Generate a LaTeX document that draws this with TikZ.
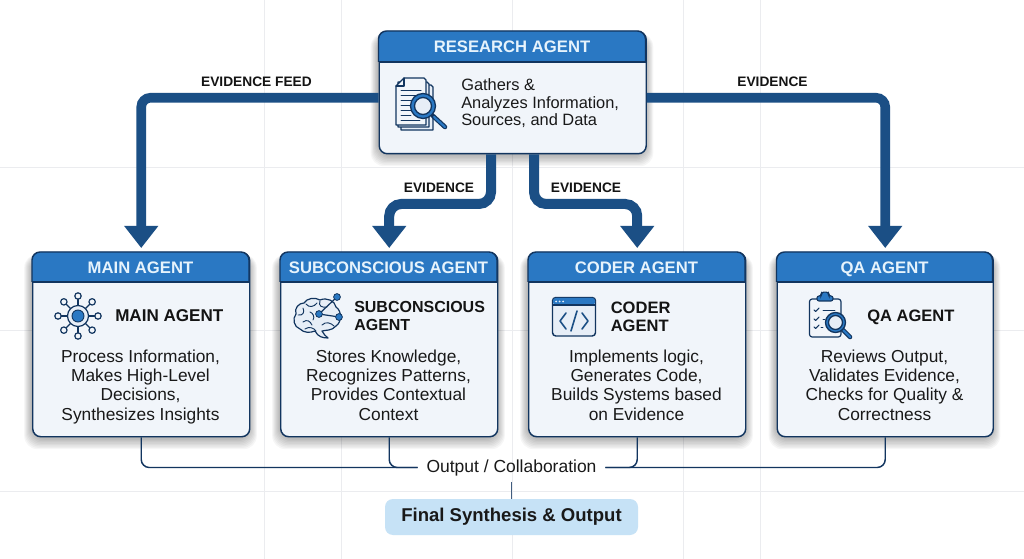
\documentclass[tikz,border=0pt]{standalone}
\usepackage{fontspec}
\setmainfont{Liberation Sans}
\usetikzlibrary{arrows.meta,calc}
\definecolor{ink}{HTML}{12355F}
\definecolor{flow}{HTML}{1B4F85}
\definecolor{head}{HTML}{2A78C3}
\definecolor{body}{HTML}{F1F5FA}
\definecolor{headtxt}{HTML}{E6F3FC}
\definecolor{grid}{HTML}{EBECEF}
\definecolor{finalbox}{HTML}{C6E2F6}
\definecolor{iconfill}{HTML}{E7EEF7}
\tikzset{
  gridline/.style={grid,line width=.75pt},
  panel/.style={rectangle,draw=ink,line width=1.1pt,fill=body,rounded corners=6pt,inner sep=0pt},
  headtext/.style={text=headtxt,anchor=base,font=\bfseries\fontsize{12.5pt}{14pt}\selectfont,inner sep=0pt},
  bodytext/.style={text=black!90,anchor=north,font=\fontsize{13pt}{14.3pt}\selectfont,align=center,inner sep=0pt},
  titletext/.style={text=black!92,font=\bfseries\fontsize{12.4pt}{13.6pt}\selectfont,align=left,inner sep=0pt},
  flowlabel/.style={text=black!92,font=\bfseries\fontsize{10.3pt}{12pt}\selectfont,inner sep=0pt},
  flowarrow/.style={draw=flow,line width=7.2pt,rounded corners=7pt,shorten >=3pt,
    -{Triangle[width=24.5pt,length=16.5pt]}},
  busline/.style={draw=ink,line width=1.1pt,rounded corners=6pt},
  iconline/.style={draw=ink,line width=.9pt,line cap=round,line join=round},
  iconpale/.style={draw=ink,line width=.9pt,fill=iconfill,line join=round},
  lenshandle/.style={draw=ink,line width=3.4pt,line cap=round},
  lenshandlein/.style={draw=head,line width=1.6pt,line cap=round},
}
% name, left, right, top, bottom, header bottom
\newcommand{\agentpanel}[6]{%
  \foreach \s in {1,...,12}{
    \fill[black,opacity=.034,rounded corners=10pt] (#2+3-\s*.9,#4+6-\s*.3) rectangle (#3-3+\s*.9,#5-3+\s*1.35);
  }
  \node[panel,anchor=north west,minimum width={(#3-#2)*.75pt},minimum height={(#5-#4)*.75pt}] (#1) at (#2,#4) {};
  \fill[head] (#2,#6) [rounded corners=6pt] -- (#2,#4) -- (#3,#4) [sharp corners] -- (#3,#6) -- cycle;
  \draw[ink,line width=1.1pt] (#2,#6) -- (#3,#6);
  \draw[ink,line width=1.1pt,rounded corners=6pt] (#2,#6) -- (#2,#4) -- (#3,#4) -- (#3,#6);
}
\begin{document}
\begin{tikzpicture}[x=.75pt,y=-.75pt]
\useasboundingbox (0,0) rectangle (1024,559);
\fill[white] (0,0) rectangle (1024,559);
% background grid
\foreach \gx in {264.5,341,512,683,760}{\draw[gridline] (\gx,0) -- (\gx,559);}
\foreach \gy in {168,331,491}{\draw[gridline] (0,\gy) -- (1024,\gy);}

% panels
\agentpanel{research}{378.5}{645.5}{31}{153}{62}
\agentpanel{main}{32}{249}{252}{436}{282}
\agentpanel{sub}{280}{497}{252}{436}{282}
\agentpanel{coder}{528}{745}{252}{436}{282}
\agentpanel{qa}{776.5}{992.5}{252}{436}{282}

% headers
\node[headtext] (researchhead) at (512,53) {RESEARCH AGENT};
\node[headtext] (mainhead) at (140.5,273.5) {MAIN AGENT};
\node[headtext] (subhead) at (388.5,273.5) {SUBCONSCIOUS AGENT};
\node[headtext] (coderhead) at (636.5,273.5) {CODER AGENT};
\node[headtext] (qahead) at (884.5,273.5) {QA AGENT};

% research text
\node[bodytext,anchor=north west,align=left,font=\fontsize{12.3pt}{13pt}\selectfont] (researchtext) at (461,78.7) {Gathers \&\\Analyzes Information,\\Sources, and Data};

% titles
\node[titletext,anchor=base west,font=\bfseries\fontsize{12.8pt}{13.6pt}\selectfont] (maintitle) at (115,322) {MAIN AGENT};
\node[titletext,anchor=west,font=\bfseries\fontsize{12pt}{13.6pt}\selectfont] (subtitle) at (354,316) {SUBCONSCIOUS\\AGENT};
\node[titletext,anchor=west] (codertitle) at (610.5,316.5) {CODER\\AGENT};
\node[titletext,anchor=base west] (qatitle) at (867,322) {QA AGENT};

% bodies
\node[bodytext] (maintext) at (140.5,350) {Process Information,\\Makes High-Level\\Decisions,\\Synthesizes Insights};
\node[bodytext] (subtext) at (388.5,350) {Stores Knowledge,\\Recognizes Patterns,\\Provides Contextual\\Context};
\node[bodytext] (codertext) at (636.5,350) {Implements logic,\\Generates Code,\\Builds Systems based\\on Evidence};
\node[bodytext] (qatext) at (884.5,350) {Reviews Output,\\Validates Evidence,\\Checks for Quality \&\\Correctness};

% evidence arrows
\draw[flowarrow] ($(research.west)+(0,5)$) -| (main.north);
\draw[flowarrow] ($(research.east)+(0,5)$) -| (qa.north);
\coordinate (leftbend) at (491,204);
\coordinate (rightbend) at (534,204);
\draw[flowarrow,line width=7.5pt,rounded corners=9pt] (research.south -| leftbend) -- (leftbend) -| (sub.north);
\draw[flowarrow,line width=7.5pt,rounded corners=9pt] (research.south -| rightbend) -- (rightbend) -| (coder.north);

\node[flowlabel] (lblfeed) at (256.5,81.5) {EVIDENCE FEED};
\node[flowlabel] (lblqa) at (772.5,81.5) {EVIDENCE};
\node[flowlabel] (lblsub) at (439,187.5) {EVIDENCE};
\node[flowlabel] (lblcoder) at (586,187.5) {EVIDENCE};

% output bus
\node[font=\fontsize{13.1pt}{14pt}\selectfont,text=black!90,inner sep=0pt,minimum width=140.25pt,minimum height=21pt] (collab) at (511.5,467.5) {\raisebox{-.8pt}{Output / Collaboration}};
\node[rectangle,fill=finalbox,rounded corners=6pt,minimum width=189.75pt,minimum height=27pt,inner sep=0pt,font=\bfseries\fontsize{13.9pt}{15pt}\selectfont,text=black!90] (final) at (511.5,517) {\raisebox{-1.2pt}{Final Synthesis \& Output}};
\draw[busline] (main.south) |- (collab.west);
\draw[busline] (sub.south) |- (collab.west);
\draw[busline] (coder.south) |- (collab.east);
\draw[busline] (qa.south) |- (collab.east);
\draw[ink!80,line width=1pt] (collab.south) -- (final.north);

% ---- icon: documents with lens
\draw[iconpale] (401,85) -- (431,85) -- (433,87) -- (433,130) -- (401,130) -- cycle;
\draw[iconpale] (398,82) -- (427,82) -- (429,84) -- (429,127) -- (398,127) -- cycle;
\draw[iconpale,fill=body] (404,78) -- (424,78) -- (426,80) -- (426,125) -- (396,125) -- (396,86) -- cycle;
\draw[iconline] (404,78) -- (404,86) -- (396,86);
\foreach \yy/\xa in {90/421,95/416,100/413,105/411,110/411,115/411,120/420}{
  \draw[iconline,line width=.7pt] (401,\yy) -- (\xa,\yy);}
\draw[iconline,line width=.7pt] (407,90) -- (421,90);
\draw[lenshandle] (433,116) -- (445,127);
\draw[lenshandlein] (434,117) -- (445,127);
\draw[draw=ink,line width=1pt,fill=head] (423,106) circle (12.5*.75pt);
\draw[draw=ink,line width=1pt,fill=iconfill] (423,106) circle (8.5*.75pt);

% ---- icon: hub
\foreach \a in {0,45,...,315}{
  \draw[iconline,line width=.9pt] (78,316) -- ++(\a:17);
  \draw[draw=ink,line width=.9pt,fill=body] ($(78,316)+(\a:20)$) circle (3.2*.75pt);
}
\draw[draw=ink,line width=.9pt,fill=iconfill] (78,316) circle (10.5*.75pt);
\fill[head,draw=ink,line width=.7pt] (78,316) circle (6*.75pt);

% ---- icon: brain
\draw[iconpale] (300,329) .. controls (294,327) and (292,319) .. (296,314)
  .. controls (294,308) and (299,303) .. (304,303)
  .. controls (307,298) and (315,297) .. (320,300)
  .. controls (327,297) and (335,301) .. (336,307)
  .. controls (342,311) and (342,322) .. (336,326)
  .. controls (332,331) and (325,330) .. (322,331)
  .. controls (323,334) and (326,336) .. (328,338)
  .. controls (323,338) and (318,337) .. (315,331)
  .. controls (310,333) and (304,333) .. (300,329) -- cycle;
\foreach \p in {
  {(298,315) .. controls (303,316) and (305,312) .. (303,308)},
  {(306,304) .. controls (309,308) and (314,307) .. (317,303)},
  {(303,322) .. controls (307,319) and (310,321) .. (312,325)},
  {(320,301) .. controls (318,306) and (322,308) .. (327,307)},
  {(305,329) .. controls (309,326) and (314,328) .. (316,331)},
  {(322,325) .. controls (326,321) and (331,323) .. (334,326)},
  {(310,312) .. controls (313,313) and (315,317) .. (313,320)}}{
  \draw[iconline,line width=.7pt] \p;
}
\draw[iconline] (319,314) -- (337,297);
\draw[iconline] (319,314) -- (339,317);
\foreach \q in {(319,314),(337,297),(339,317)}{\fill[head,draw=ink,line width=.6pt] \q circle (3.4*.75pt);}

% ---- icon: code window
\draw[draw=ink,line width=1.1pt,fill=iconfill,rounded corners=2.5pt] (552.5,297.5) rectangle (595.5,336);
\fill[head,rounded corners=2pt] (553,298) rectangle (595,305);
\draw[ink,line width=.9pt] (552.5,305) -- (595.5,305);
\foreach \dx in {556,559.5,563}{\fill[iconfill] (\dx,301.5) circle (.75pt);}
\draw[iconline,draw=flow,line width=1.2pt] (566,313) -- (560,321) -- (566,329);
\draw[iconline,draw=flow,line width=1.2pt] (582,313) -- (588,321) -- (582,329);
\draw[iconline,draw=flow,line width=1.2pt] (577,311) -- (571,331);

% ---- icon: clipboard
\draw[iconpale,fill=body,rounded corners=2pt] (809.5,299) rectangle (841,337);
\fill[head,draw=ink,line width=.8pt,rounded corners=1.5pt] (817,301) -- (817,296) -- (821,296) -- (821,294) .. controls (823,292) and (827,292) .. (829,294) -- (829,296) -- (833,296) -- (833,301) -- cycle;
\foreach \yy/\xb in {310/835,319/825,327/821}{
  \draw[iconline,line width=.8pt] (814,\yy) -- (815.5,\yy+1.5) -- (819,\yy-2);
  \draw[iconline,line width=.7pt] (823,\yy) -- (\xb,\yy);
}
\draw[lenshandle] (842,329) -- (850,337);
\draw[lenshandlein] (843,330) -- (850,337);
\draw[draw=ink,line width=1pt,fill=head] (835.5,322.5) circle (10*.75pt);
\draw[draw=ink,line width=1pt,fill=iconfill] (835.5,322.5) circle (7*.75pt);
\end{tikzpicture}
\end{document}
